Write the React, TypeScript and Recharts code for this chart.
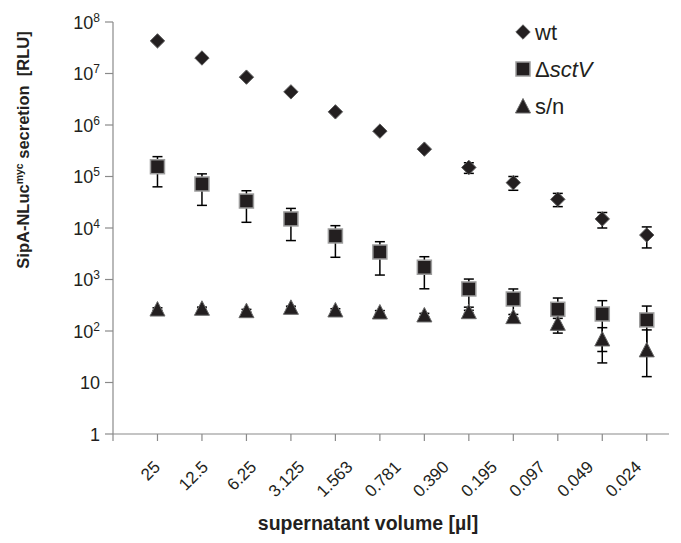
import React from 'react';
import { ScatterChart, Scatter, XAxis, YAxis, ErrorBar, Legend, Label } from 'recharts';

// ---- data ----
const volumeLabels = ['25', '12.5', '6.25', '3.125', '1.563', '0.781', '0.390', '0.195', '0.097', '0.049', '0.024'];
const labelPositions = [1, 2, 3, 4, 5, 6, 7, 8, 9, 10, 11];
const dilutionIndex = [1, 2, 3, 4, 5, 6, 7, 8, 9, 10, 11, 12];
const categoryTicks = [0, 1, 2, 3, 4, 5, 6, 7, 8, 9, 10, 11, 12];
const yTicks = [1, 10, 100, 1e3, 1e4, 1e5, 1e6, 1e7, 1e8];

const wtValues = [4.3e7, 2.0e7, 8.5e6, 4.4e6, 1.8e6, 7.6e5, 3.4e5, 1.5e5, 7.6e4, 3.6e4, 1.5e4, 7.3e3];
const wtErrLow = [1.5e6, 7e5, 3e5, 1.5e5, 6e4, 2.5e4, 2e4, 3.5e4, 2.2e4, 1.0e4, 5e3, 3.2e3];
const wtErrHigh = [1.5e6, 7e5, 3e5, 1.5e5, 6e4, 2.5e4, 2e4, 3.5e4, 2.4e4, 1.1e4, 5e3, 3.2e3];

const sctvValues = [1.55e5, 7.15e4, 3.34e4, 1.5e4, 7.0e3, 3.42e3, 1.73e3, 655, 418, 264, 214, 164];
const sctvErrLow = [9.2e4, 4.4e4, 2.05e4, 9.3e3, 4.3e3, 2.2e3, 1.07e3, 365, 237, 173, 174, 125];
const sctvErrHigh = [8.8e4, 4.1e4, 1.95e4, 9.0e3, 4.1e3, 2.0e3, 1.04e3, 365, 237, 173, 174, 141];

const snValues = [267, 276, 248, 288, 256, 234, 205, 237, 190, 141, 70, 43];
const snErrLow = [15, 15, 15, 15, 15, 15, 15, 15, 20, 35, 46, 30];
const snErrHigh = [15, 15, 15, 15, 15, 15, 15, 15, 20, 35, 46, 62];

// ---- styling ----
const FONT = '"Liberation Sans", Arial, Helvetica, sans-serif';
const INK = '#231f20';
const AXIS = '#8a8a8a';

const build = (vals: number[], lo: number[], hi: number[]) =>
  dilutionIndex.map((x, i) => ({ x, y: vals[i], err: [lo[i], hi[i]] }));

const wtData = build(wtValues, wtErrLow, wtErrHigh);
const sctvData = build(sctvValues, sctvErrLow, sctvErrHigh);
const snData = build(snValues, snErrLow, snErrHigh);
// anchors so the label axis has data of its own (drawn invisibly)
const labelAnchorData = labelPositions.map((x) => ({ x, y: 1 }));

const Diamond = (p: any) => {
  const { cx, cy } = p;
  const r = 7.2;
  return (
    <polygon
      points={`${cx},${cy - r} ${cx + r},${cy} ${cx},${cy + r} ${cx - r},${cy}`}
      fill={INK}
      stroke="#5c5c5c"
      strokeWidth={1}
    />
  );
};

const Square = (p: any) => {
  const { cx, cy } = p;
  return <rect x={cx - 7} y={cy - 7} width={14} height={14} fill={INK} stroke="#9d9d9d" strokeWidth={1.5} />;
};

const Triangle = (p: any) => {
  const { cx, cy } = p;
  return (
    <polygon
      points={`${cx},${cy - 7.5} ${cx + 7.5},${cy + 7} ${cx - 7.5},${cy + 7}`}
      fill={INK}
      stroke="#6a6a6a"
      strokeWidth={1}
    />
  );
};

const Nothing = () => <g />;

const YTick = (props: any) => {
  const { x, y, payload } = props;
  const e = Math.round(Math.log10(payload.value));
  return (
    <text x={x} y={y} dy={6.5} textAnchor="end" fontSize={18} fill={INK} fontFamily={FONT}>
      {e === 0 ? '1' : e === 1 ? '10' : (
        <>
          <tspan>10</tspan>
          <tspan dy={-7} fontSize={12}>{e}</tspan>
        </>
      )}
    </text>
  );
};

const XLabelTick = (props: any) => {
  const { x, y, payload } = props;
  const ty = y + 24;
  const idx = labelPositions.indexOf(payload.value);
  return (
    <text
      x={x}
      y={ty}
      textAnchor="end"
      transform={`rotate(-45 ${x} ${ty})`}
      fontSize={17}
      fill={INK}
      fontFamily={FONT}
    >
      {volumeLabels[idx]}
    </text>
  );
};

const YTitle = (props: any) => {
  const vb = props.viewBox || { x: 0, y: 14, width: 105, height: 412 };
  const tx = vb.x + 21;
  const ty = vb.y + 128;
  return (
    <text
      x={tx}
      y={ty}
      transform={`rotate(-90 ${tx} ${ty})`}
      textAnchor="middle"
      fontSize={16.5}
      fontWeight="bold"
      fill={INK}
      fontFamily={FONT}
      style={{ whiteSpace: 'pre' }}
    >
      <tspan>SipA-NLuc</tspan>
      <tspan fontSize={10.5} dy={-6}>myc</tspan>
      <tspan dy={6}>{' secretion  [RLU]'}</tspan>
    </text>
  );
};

const XTitle = (props: any) => {
  const vb = props.viewBox || { x: 105, y: 436, width: 556, height: 91 };
  return (
    <text
      x={vb.x + 255}
      y={vb.y + 86}
      textAnchor="middle"
      fontSize={19.5}
      fontWeight="bold"
      fill={INK}
      fontFamily={FONT}
    >
      supernatant volume [µl]
    </text>
  );
};

const legendItems = [
  { key: 'wt', marker: 'diamond' },
  { key: 'sctV', marker: 'square' },
  { key: 'sn', marker: 'triangle' },
];

const LegendMarker = ({ kind }: { kind: string }) => (
  <svg width={16} height={16} style={{ marginRight: 4, flex: 'none' }}>
    {kind === 'diamond' && <Diamond cx={8} cy={8} />}
    {kind === 'square' && <Square cx={8} cy={8} />}
    {kind === 'triangle' && <Triangle cx={8} cy={8} />}
  </svg>
);

const LegendContent = () => (
  <div style={{ fontFamily: FONT, fontSize: 22, color: INK }}>
    {legendItems.map((it) => (
      <div key={it.key} style={{ display: 'flex', alignItems: 'center', height: 37 }}>
        <LegendMarker kind={it.marker} />
        <span style={{ lineHeight: '25px' }}>
          {it.key === 'wt' && 'wt'}
          {it.key === 'sctV' && (
            <>
              Δ<i>sctV</i>
            </>
          )}
          {it.key === 'sn' && 's/n'}
        </span>
      </div>
    ))}
  </div>
);

export default function App() {
  return (
    <ScatterChart width={665} height={527} margin={{ top: 14, right: 4, bottom: 0, left: 0 }}>
      <XAxis
        xAxisId={0}
        type="number"
        dataKey="x"
        domain={[0, 12.5]}
        ticks={categoryTicks}
        interval={0}
        tick={Nothing}
        tickSize={7}
        height={10}
        axisLine={{ stroke: AXIS, strokeWidth: 1.2 }}
        tickLine={{ stroke: AXIS, strokeWidth: 1.2 }}
        allowDataOverflow
      />
      <XAxis
        xAxisId="lbl"
        type="number"
        dataKey="x"
        domain={[0, 11.55]}
        ticks={labelPositions}
        interval={0}
        tick={XLabelTick}
        tickSize={0}
        tickMargin={0}
        axisLine={false}
        tickLine={false}
        height={91}
        allowDataOverflow
      >
        <Label content={XTitle} />
      </XAxis>
      <YAxis
        type="number"
        dataKey="y"
        scale="log"
        domain={[1, 1e8]}
        ticks={yTicks}
        interval={0}
        allowDataOverflow
        width={105}
        tick={YTick}
        tickSize={8}
        tickMargin={5}
        axisLine={{ stroke: AXIS, strokeWidth: 1.2 }}
        tickLine={{ stroke: AXIS, strokeWidth: 1.2 }}
      >
        <Label content={YTitle} />
      </YAxis>
      <Legend
        layout="horizontal"
        align="center"
        verticalAlign="middle"
        content={LegendContent}
        wrapperStyle={{ top: 5.5, left: 507, width: 150, height: 111 }}
      />
      <Scatter
        name="labels"
        xAxisId="lbl"
        data={labelAnchorData}
        shape={Nothing}
        legendType="none"
        isAnimationActive={false}
      />
      <Scatter name="wt" data={wtData} shape={Diamond} isAnimationActive={false}>
        <ErrorBar dataKey="err" direction="y" width={5} stroke="#000" strokeWidth={1.5} isAnimationActive={false} />
      </Scatter>
      <Scatter name="ΔsctV" data={sctvData} shape={Square} isAnimationActive={false}>
        <ErrorBar dataKey="err" direction="y" width={5} stroke="#000" strokeWidth={1.5} isAnimationActive={false} />
      </Scatter>
      <Scatter name="s/n" data={snData} shape={Triangle} isAnimationActive={false}>
        <ErrorBar dataKey="err" direction="y" width={5} stroke="#000" strokeWidth={1.5} isAnimationActive={false} />
      </Scatter>
    </ScatterChart>
  );
}
